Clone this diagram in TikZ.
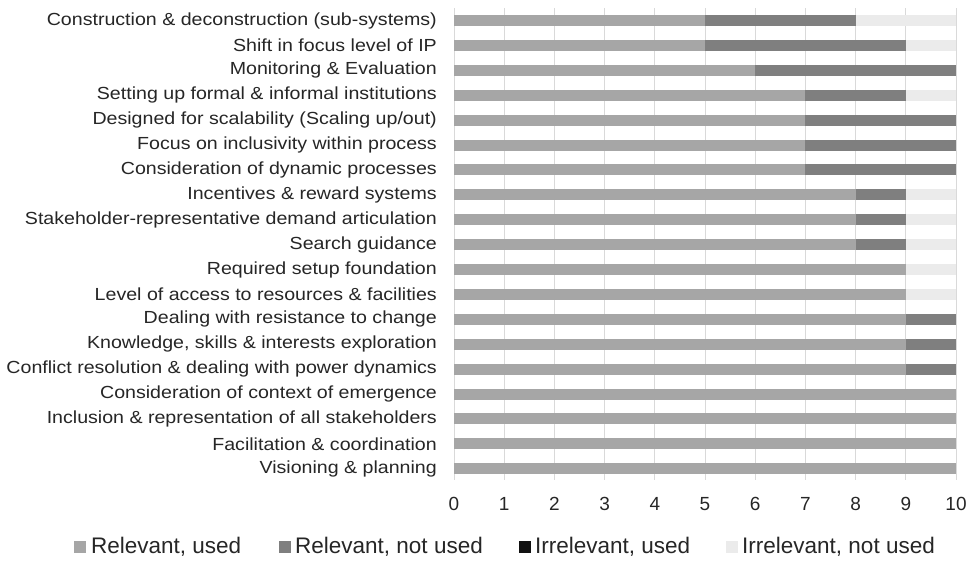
\documentclass[tikz,border=0pt]{standalone}
\usepackage{fontspec}
\setmainfont{Liberation Sans}
\newfontfamily\lblfont[FakeStretch=1.12]{Liberation Sans}
\definecolor{relused}{HTML}{A6A6A6}
\definecolor{relnot}{HTML}{7F7F7F}
\definecolor{irrused}{HTML}{111111}
\definecolor{irrnot}{HTML}{EBEBEB}
\definecolor{gridc}{HTML}{D9D9D9}
\begin{document}
\begin{tikzpicture}[x=1pt,y=-1pt,
  lbl/.style={anchor=east,font=\lblfont\fontsize{17.5}{19}\selectfont,inner sep=0pt,text=black!85},
  ticklbl/.style={anchor=center,font=\fontsize{19}{21}\selectfont,inner sep=0pt,text=black!85},
  leglbl/.style={anchor=west,font=\fontsize{22.5}{24}\selectfont,inner sep=0pt,text=black!85},
  gridline/.style={draw=gridc,line width=1pt}]
\useasboundingbox (0,0) rectangle (968,560);
\fill[white] (0,0) rectangle (968,560);
\def\xo{454}\def\u{50.2}
\foreach \k in {0,...,10}{
  \draw[gridline] ({\xo+\u*\k},8) -- ({\xo+\u*\k},480);
  \node[ticklbl] (tick\k) at ({\xo+\u*\k},504) {\k};
}
\foreach [count=\i] \lab/\a/\b in {
 {Construction \& deconstruction (sub-systems)}/5/3,
 {Shift in focus level of IP}/5/4,
 {Monitoring \& Evaluation}/6/4,
 {Setting up formal \& informal institutions\hspace{5pt}}/7/2,
 {Designed for scalability (Scaling up/out)\hspace{5pt}}/7/3,
 {Focus on inclusivity within process\hspace{5pt}}/7/3,
 {Consideration of dynamic processes}/7/3,
 {Incentives \& reward systems}/8/1,
 {Stakeholder-representative demand articulation}/8/1,
 {Search guidance}/8/1,
 {Required setup foundation}/9/0,
 {Level of access to resources \& facilities}/9/0,
 {Dealing with resistance to change}/9/1,
 {Knowledge, skills \& interests exploration}/9/1,
 {Conflict resolution \& dealing with power dynamics}/9/1,
 {Consideration of context of emergence}/10/0,
 {Inclusion \& representation of all stakeholders\hspace{5pt}}/10/0,
 {Facilitation \& coordination}/10/0,
 {Visioning \& planning}/10/0}{
  \pgfmathsetmacro{\yc}{20.5+(\i-1)*24.9}
  \node[lbl] (lab\i) at (437,\yc) {\lab};
  \fill[relused] (\xo,\yc-5.5) rectangle ({\xo+\u*\a},\yc+5.5);
  \ifnum\b>0
    \fill[relnot] ({\xo+\u*\a},\yc-5.5) rectangle ({\xo+\u*(\a+\b)},\yc+5.5);
  \fi
  \pgfmathtruncatemacro{\s}{\a+\b}
  \ifnum\s<10
    \fill[irrnot] ({\xo+\u*\s},\yc-5.5) rectangle ({\xo+\u*10},\yc+5.5);
  \fi
}
% legend
\fill[relused] (74,541) rectangle (86,553);
\node[leglbl] (leg1) at (91,547) {Relevant, used};
\fill[relnot] (279,541) rectangle (291,553);
\node[leglbl] (leg2) at (295,547) {Relevant, not used};
\fill[irrused] (519,541) rectangle (531,553);
\node[leglbl] (leg3) at (535,547) {Irrelevant, used};
\fill[irrnot] (726,541) rectangle (738,553);
\node[leglbl] (leg4) at (742,547) {Irrelevant, not used};
\end{tikzpicture}
\end{document}
